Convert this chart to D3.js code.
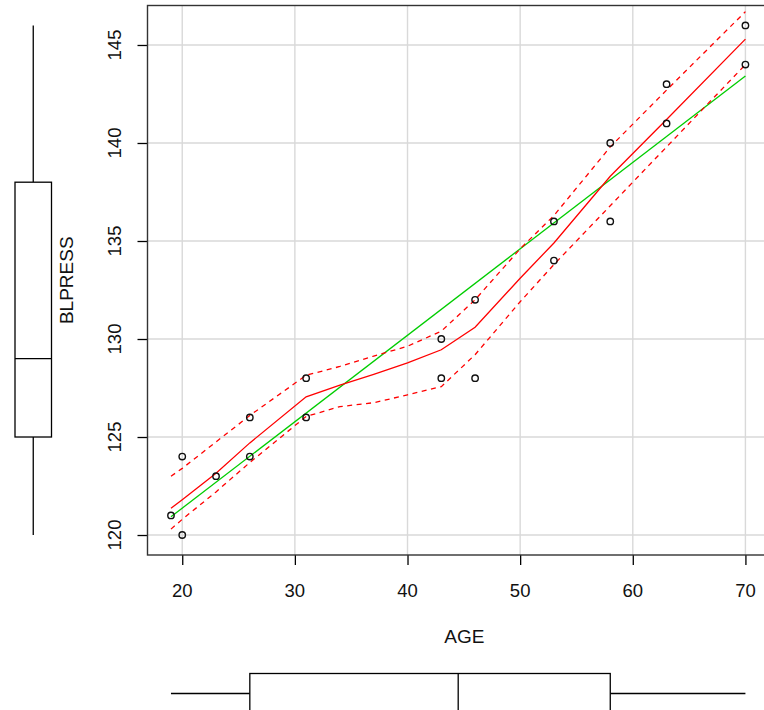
<!DOCTYPE html>
<html>
<head>
<meta charset="utf-8">
<script src="https://cdn.jsdelivr.net/npm/d3@7"></script>
<style>
  html, body { margin: 0; padding: 0; background: #fff; }
  svg { display: block; }
  text { font-family: "Liberation Sans", Arial, sans-serif; fill: #111; }
</style>
</head>
<body>
<svg id="chart" width="764" height="710"></svg>
<script>
// ---- data ----
const age     = [19, 20, 20, 23, 26, 26, 31, 31, 43, 43, 46, 46, 53, 53, 58, 58, 63, 63, 70, 70];
const blpress = [121, 124, 120, 123, 126, 124, 128, 126, 130, 128, 132, 128, 136, 134, 140, 136, 143, 141, 146, 144];

// linear fit (green)
const linX = [19, 70];
const linY = [120.93, 143.42];

// smoother (red) with its band
const smoothX     = [19, 20, 23, 26, 31, 34, 37, 40, 43, 46, 50, 53, 58, 63, 70];
const smoothFit   = [121.36, 121.8, 123.15, 124.7, 127.05, 127.65, 128.2, 128.78, 129.45, 130.6, 133.1, 134.9, 138.3, 141.2, 145.3];
const smoothUpper = [123.0, 123.4, 124.75, 126.1, 128.15, 128.6, 129.13, 129.63, 130.4, 132.0, 134.6, 136.3, 139.8, 142.7, 146.7];
const smoothLower = [120.3, 120.8, 122.2, 123.7, 126.05, 126.55, 126.75, 127.15, 127.57, 129.2, 131.9, 133.8, 136.8, 139.8, 144.0];

// marginal boxplots: [min, lower hinge, median, upper hinge, max]
const ageBox     = [19, 26, 44.5, 58, 70];
const blpressBox = [120, 125, 129, 138, 146];

const xTicks = [20, 30, 40, 50, 60, 70];
const yTicks = [120, 125, 130, 135, 140, 145];
const xLabel = "AGE";
const yLabel = "BLPRESS";

// ---- drawing ----
const svg = d3.select("#chart");
const plot = { left: 147.5, top: 5.5, right: 769, bottom: 555 };

const x = d3.scaleLinear().domain([16.96, 72.04]).range([148, 768.4]);
const y = d3.scaleLinear().domain([118.96, 147.04]).range([555.4, 5.0]);

const clipId = "plotclip";
svg.append("clipPath").attr("id", clipId)
  .append("rect").attr("x", plot.left).attr("y", plot.top)
  .attr("width", plot.right - plot.left).attr("height", plot.bottom - plot.top);

// grid
const grid = svg.append("g").attr("clip-path", `url(#${clipId})`);
grid.selectAll("line.gx").data(xTicks).join("line")
  .attr("x1", d => x(d)).attr("x2", d => x(d))
  .attr("y1", plot.top).attr("y2", plot.bottom)
  .attr("stroke", "#d9d9d9").attr("stroke-width", 1.4);
grid.selectAll("line.gy").data(yTicks).join("line")
  .attr("y1", d => y(d)).attr("y2", d => y(d))
  .attr("x1", plot.left).attr("x2", plot.right)
  .attr("stroke", "#d9d9d9").attr("stroke-width", 1.4);

// axes
const xAxis = d3.axisBottom(x).tickValues(xTicks).tickSize(10).tickPadding(0).tickFormat(d3.format("d"));
const gx = svg.append("g").attr("transform", `translate(0,${plot.bottom})`).call(xAxis);
gx.select(".domain").remove();
gx.selectAll(".tick line").attr("stroke", "#000").attr("stroke-width", 1.3);
gx.selectAll(".tick text").remove();
svg.append("g").selectAll("text").data(xTicks).join("text")
  .attr("x", d => x(d)).attr("y", 590)
  .attr("text-anchor", "middle").attr("dominant-baseline", "central")
  .style("font-size", "18.5px").text(d => d);

const yAxis = d3.axisLeft(y).tickValues(yTicks).tickSize(10).tickFormat(d3.format("d"));
const gy = svg.append("g").attr("transform", `translate(${plot.left},0)`).call(yAxis);
gy.select(".domain").remove();
gy.selectAll(".tick line").attr("stroke", "#000").attr("stroke-width", 1.3);
gy.selectAll(".tick text").remove();
svg.append("g").selectAll("text").data(yTicks).join("text")
  .attr("transform", d => `translate(114,${y(d)}) rotate(-90)`)
  .attr("text-anchor", "middle").attr("dominant-baseline", "central")
  .style("font-size", "18.5px").text(d => d);

// axis titles
svg.append("text").attr("x", (x(20) + x(70)) / 2 + 0.5).attr("y", 636)
  .attr("text-anchor", "middle").attr("dominant-baseline", "central")
  .style("font-size", "19px").text(xLabel);
svg.append("text").attr("transform", `translate(66,${(plot.top + plot.bottom) / 2}) rotate(-90)`)
  .attr("text-anchor", "middle").attr("dominant-baseline", "central")
  .style("font-size", "19px").text(yLabel);

// lines
const marks = svg.append("g").attr("clip-path", `url(#${clipId})`);
const line = d3.line().x(d => x(d[0])).y(d => y(d[1]));

marks.append("path").datum(d3.zip(linX, linY)).attr("d", line)
  .attr("fill", "none").attr("stroke", "#00cd00").attr("stroke-width", 1.3);

marks.append("path").datum(d3.zip(smoothX, smoothFit)).attr("d", line)
  .attr("fill", "none").attr("stroke", "#ff0000").attr("stroke-width", 1.3);
[smoothUpper, smoothLower].forEach(arr => {
  marks.append("path").datum(d3.zip(smoothX, arr)).attr("d", line)
    .attr("fill", "none").attr("stroke", "#ff0000").attr("stroke-width", 1.3)
    .attr("stroke-dasharray", "5,4.5");
});

// points
marks.selectAll("circle").data(d3.zip(age, blpress)).join("circle")
  .attr("cx", d => x(d[0])).attr("cy", d => y(d[1])).attr("r", 3.2)
  .attr("fill", "none").attr("stroke", "#111").attr("stroke-width", 1.4);

// frame
svg.append("rect").attr("x", plot.left).attr("y", plot.top)
  .attr("width", plot.right - plot.left).attr("height", plot.bottom - plot.top)
  .attr("fill", "none").attr("stroke", "#333").attr("stroke-width", 1.4);

// left boxplot (BLPRESS)
const lb = svg.append("g").attr("stroke", "#000").attr("stroke-width", 1.3).attr("fill", "none");
const bx0 = 15, bx1 = 51.5, bxc = (bx0 + bx1) / 2;
lb.append("line").attr("x1", bxc).attr("x2", bxc).attr("y1", y(blpressBox[0])).attr("y2", y(blpressBox[1]));
lb.append("line").attr("x1", bxc).attr("x2", bxc).attr("y1", y(blpressBox[3])).attr("y2", y(blpressBox[4]));
lb.append("rect").attr("x", bx0).attr("width", bx1 - bx0)
  .attr("y", y(blpressBox[3])).attr("height", y(blpressBox[1]) - y(blpressBox[3])).attr("fill", "#fff");
lb.append("line").attr("x1", bx0).attr("x2", bx1).attr("y1", y(blpressBox[2])).attr("y2", y(blpressBox[2]));

// bottom boxplot (AGE)
const bb = svg.append("g").attr("stroke", "#000").attr("stroke-width", 1.3).attr("fill", "none");
const by0 = 673.5, by1 = 713.5, byc = 693.5;
bb.append("line").attr("y1", byc).attr("y2", byc).attr("x1", x(ageBox[0])).attr("x2", x(ageBox[1]));
bb.append("line").attr("y1", byc).attr("y2", byc).attr("x1", x(ageBox[3])).attr("x2", x(ageBox[4]));
bb.append("rect").attr("y", by0).attr("height", by1 - by0)
  .attr("x", x(ageBox[1])).attr("width", x(ageBox[3]) - x(ageBox[1])).attr("fill", "#fff");
bb.append("line").attr("y1", by0).attr("y2", by1).attr("x1", x(ageBox[2])).attr("x2", x(ageBox[2]));
</script>
</body>
</html>
